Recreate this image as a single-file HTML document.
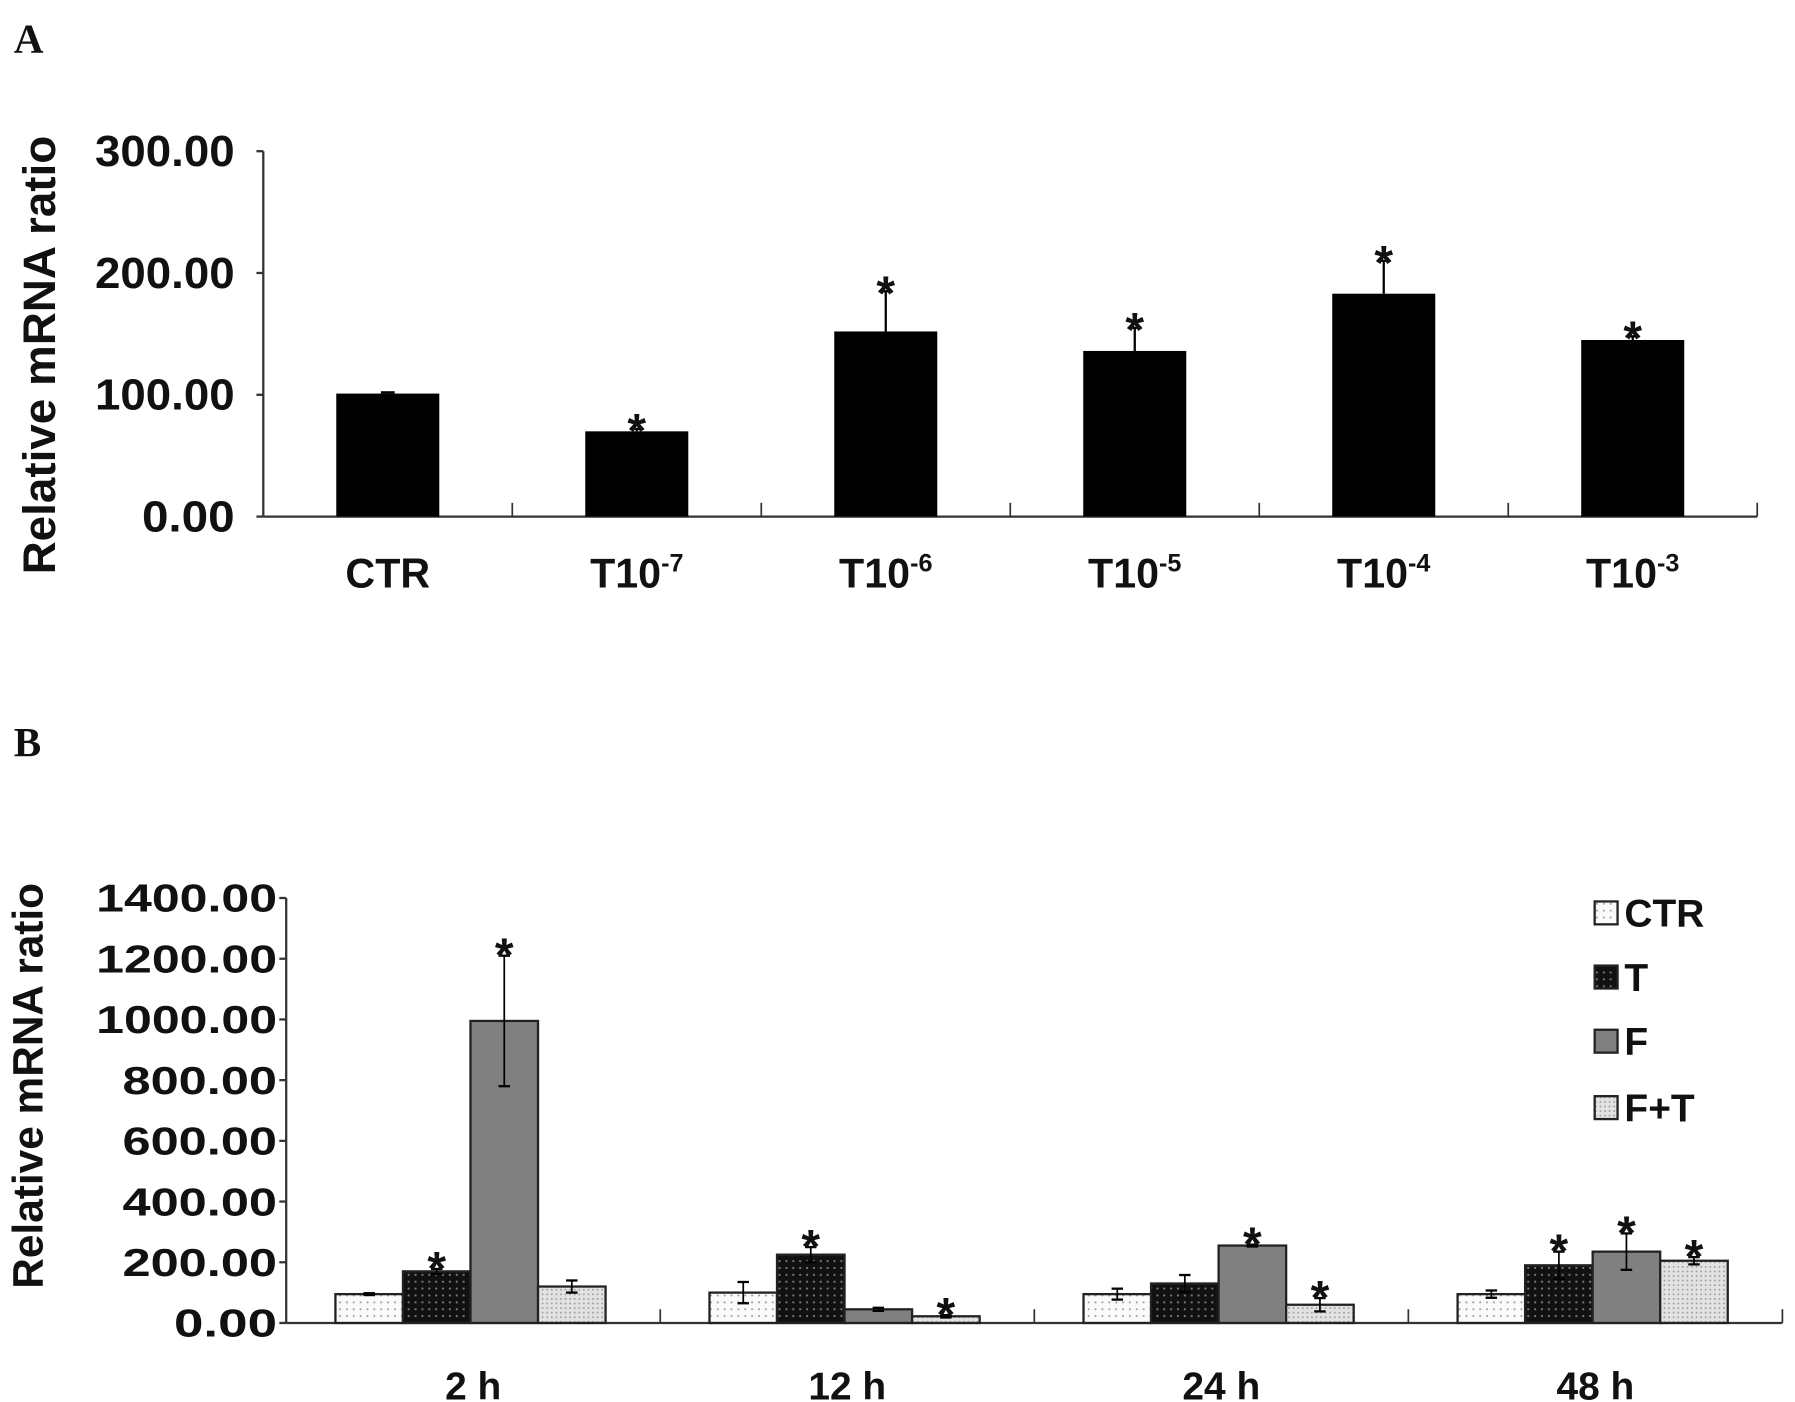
<!DOCTYPE html>
<html><head><meta charset="utf-8"><style>
html,body{margin:0;padding:0;background:#fff}
svg{display:block}
text{font-family:"Liberation Sans",Arial,sans-serif;font-weight:bold;fill:#111}
</style></head><body>
<svg id="fig" width="1795" height="1402" viewBox="0 0 1568 1224" preserveAspectRatio="none" xmlns="http://www.w3.org/2000/svg">
<defs>
<pattern id="pCTR" width="6" height="6" patternUnits="userSpaceOnUse"><rect width="6" height="6" fill="#fafafa"/><circle cx="3" cy="3" r="0.9" fill="#999"/></pattern>
<pattern id="pT" width="6" height="6" patternUnits="userSpaceOnUse"><rect width="6" height="6" fill="#111"/><circle cx="3" cy="3" r="1" fill="#777"/></pattern>
<pattern id="pFT" width="4" height="4" patternUnits="userSpaceOnUse"><rect width="4" height="4" fill="#e2e2e2"/><circle cx="2" cy="2" r="0.8" fill="#999"/></pattern>
</defs>
<text x="12" y="46" style="font-family:'Liberation Serif',serif;font-size:36px">A</text>
<text x="12" y="660" style="font-family:'Liberation Serif',serif;font-size:36px">B</text>
<g id="gA"></g>
<g id="gB"></g>
</svg>
<script>
// Panel A data
const catsA = ["CTR","T10","T10","T10","T10","T10"];
const supA = ["","-7","-6","-5","-4","-3"];
const valsA = [101, 70, 152, 136, 183, 145];
const errA = [1, 2, 33, 19, 27, 3];
const starA = [false, true, true, true, true, true];
const ticksA = [0, 100, 200, 300];
const tickLabA = ["0.00","100.00","200.00","300.00"];
// Panel B data
const catsB = ["2 h","12 h","24 h","48 h"];
const seriesB = ["CTR","T","F","F+T"];
const ctrB = [95, 100, 95, 95];
const tB = [170, 225, 130, 190];
const fB = [995, 45, 255, 235];
const ftB = [120, 22, 60, 205];
const ctrErrB = [3, 35, 18, 12];
const tErrB = [8, 25, 28, 45];
const fErrB = [215, 5, 3, 60];
const ftErrB = [20, 4, 22, 12];
const starB = [[false,true,true,false],[false,true,false,true],[false,false,true,true],[false,true,true,true]];
const ticksB = [0,200,400,600,800,1000,1200,1400];
const tickLabB = ["0.00","200.00","400.00","600.00","800.00","1000.00","1200.00","1400.00"];

const NS="http://www.w3.org/2000/svg";
function mk(tag, attrs, parent, txt){const e=document.createElementNS(NS,tag);for(const k in attrs)e.setAttribute(k,attrs[k]);if(txt!==undefined)e.textContent=txt;parent.appendChild(e);return e;}

// ---- Panel A ----
(function(){
const g=document.getElementById('gA');
const x0=230,x1=1535,y0=451,yTop=132,max=300;
const yA=v=>y0-(v/max)*(y0-yTop);
const bw=(x1-x0)/catsA.length;
let e=mk('line',{x1:x0,y1:yTop,x2:x0,y2:y0,stroke:'#333','stroke-width':2},g);

e=mk('line',{x1:x0,y1:y0,x2:x1,y2:y0,stroke:'#333','stroke-width':2},g);

ticksA.forEach((t,i)=>{
  mk('line',{x1:x0-6,y1:yA(t),x2:x0,y2:yA(t),stroke:'#333','stroke-width':2},g);
  const lab=tickLabA[i];
  e=mk('text',{x:205,y:yA(t)+13,'text-anchor':'end','font-size':38,'textLength':Math.round(122*lab.length/6),'lengthAdjust':'spacingAndGlyphs'},g,lab);
  
});
for(let i=1;i<=catsA.length;i++) mk('line',{x1:x0+i*bw,y1:y0,x2:x0+i*bw,y2:y0-12,stroke:'#333','stroke-width':1.5},g);
e=mk('text',{x:48,y:310,'text-anchor':'middle','font-size':40,transform:'rotate(-90 48 310)'},g,'Relative mRNA ratio');

catsA.forEach((c,i)=>{
  const cx=x0+bw*(i+0.5);
  const b=mk('rect',{x:cx-45,y:yA(valsA[i]),width:90,height:y0-yA(valsA[i]),fill:'#000'},g);
  
  const ey=yA(valsA[i]+errA[i]);
  mk('line',{x1:cx,y1:yA(valsA[i]),x2:cx,y2:ey,stroke:'#000','stroke-width':2},g);
  mk('line',{x1:cx-6,y1:ey,x2:cx+6,y2:ey,stroke:'#000','stroke-width':2},g);
  if(starA[i]){const s=mk('text',{x:cx,y:ey+16,'text-anchor':'middle','font-size':42},g,'*');
    }
  const t=mk('text',{x:cx,y:513,'text-anchor':'middle','font-size':36},g);
  
  t.textContent=c;
  if(supA[i]){mk('tspan',{dy:-14,'font-size':22},t,supA[i]);}
});
})();

// ---- Panel B ----
(function(){
const g=document.getElementById('gB');
const x0=250,x1=1557,y0=1155,yTop=784,max=1400;
const yB=v=>y0-(v/max)*(y0-yTop);
const gw=(x1-x0)/catsB.length;
const vals=[ctrB,tB,fB,ftB], errs=[ctrErrB,tErrB,fErrB,ftErrB];
const fills=['url(#pCTR)','url(#pT)','#808080','url(#pFT)'];
let e=mk('line',{x1:x0,y1:yTop,x2:x0,y2:y0,stroke:'#333','stroke-width':2},g);

e=mk('line',{x1:x0,y1:y0,x2:x1,y2:y0,stroke:'#333','stroke-width':2},g);

ticksB.forEach((t,i)=>{
  mk('line',{x1:x0-6,y1:yB(t),x2:x0,y2:yB(t),stroke:'#333','stroke-width':2},g);
  const lab=tickLabB[i];
  e=mk('text',{x:242,y:yB(t)+12,'text-anchor':'end','font-size':34,'textLength':Math.round(158*lab.length/7),'lengthAdjust':'spacingAndGlyphs'},g,lab);
  
});
for(let i=1;i<=catsB.length;i++) mk('line',{x1:x0+i*gw,y1:y0,x2:x0+i*gw,y2:y0-12,stroke:'#333','stroke-width':1.5},g);
e=mk('text',{x:37,y:948,'text-anchor':'middle','font-size':37,transform:'rotate(-90 37 948)'},g,'Relative mRNA ratio');

const bw=59;
catsB.forEach((c,i)=>{
  const gx=x0+gw*i+43;
  for(let s=0;s<4;s++){
    const v=vals[s][i], bx=gx+s*bw, cx=bx+bw/2;
    const b=mk('rect',{x:bx,y:yB(v),width:bw,height:y0-yB(v),fill:fills[s],stroke:'#222','stroke-width':2},g);
    
    const eh=yB(v+errs[s][i]), el=yB(v-errs[s][i]);
    mk('line',{x1:cx,y1:eh,x2:cx,y2:el,stroke:'#000','stroke-width':1.5},g);
    mk('line',{x1:cx-5,y1:eh,x2:cx+5,y2:eh,stroke:'#000','stroke-width':2},g);
    mk('line',{x1:cx-5,y1:el,x2:cx+5,y2:el,stroke:'#000','stroke-width':2},g);
    if(starB[i][s]){const st=mk('text',{x:cx,y:eh+14,'text-anchor':'middle','font-size':42},g,'*');
      }
  }
  const t=mk('text',{x:x0+gw*(i+0.5),y:1222,'text-anchor':'middle','font-size':34},g,c);
  
});
const lfill=['url(#pCTR)','url(#pT)','#808080','url(#pFT)'];
const ly=[797,853,909,967];
seriesB.forEach((s,i)=>{
  const r=mk('rect',{x:1393,y:ly[i]-10,width:20,height:20,fill:lfill[i],stroke:'#222','stroke-width':2},g);
  
  const t=mk('text',{x:1419,y:ly[i]+12,'font-size':34},g,s);
  
});
})();
</script>
</body></html>
